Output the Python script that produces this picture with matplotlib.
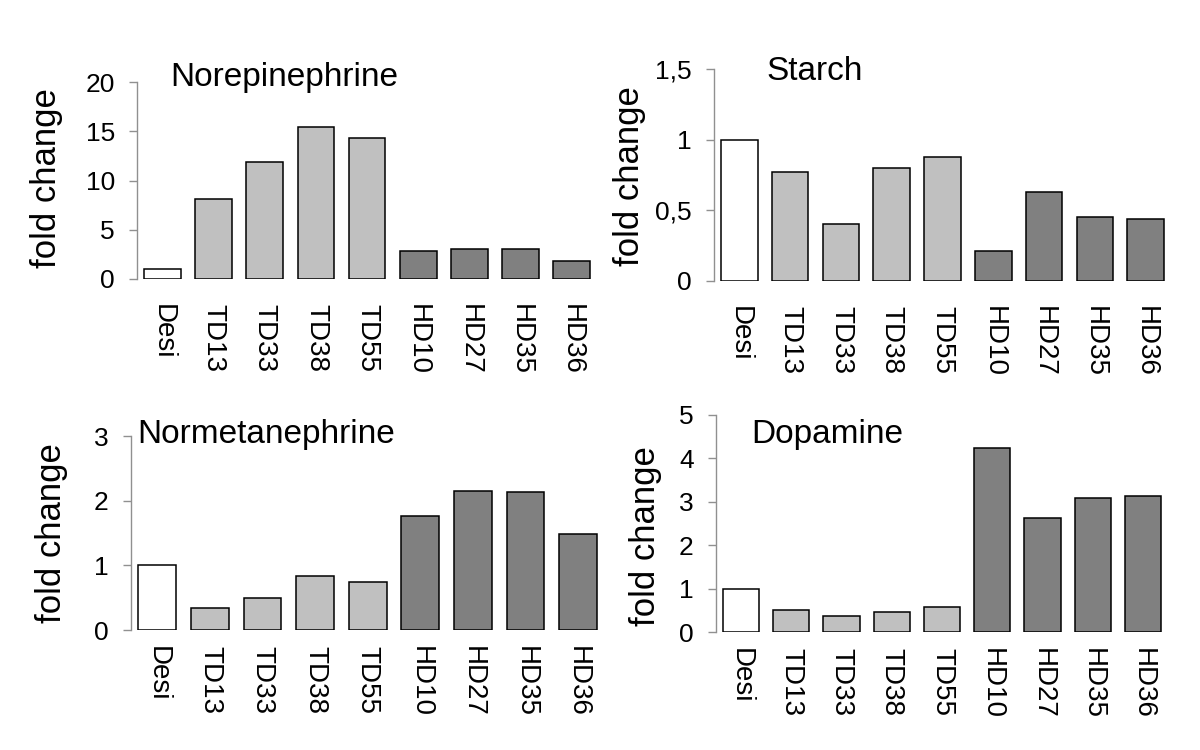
import matplotlib
matplotlib.use("Agg")
import matplotlib.pyplot as plt

plt.rcParams['font.family'] = ['Liberation Sans', 'DejaVu Sans']

# --- данные ---
lines = ['Desi', 'TD13', 'TD33', 'TD38', 'TD55', 'HD10', 'HD27', 'HD35', 'HD36']
groups = ['ctrl', 'TD', 'TD', 'TD', 'TD', 'HD', 'HD', 'HD', 'HD']

norepinephrine = [1.0, 8.15, 11.9, 15.4, 14.3, 2.86, 3.06, 3.06, 1.79]
starch = [1.0, 0.77, 0.405, 0.80, 0.88, 0.215, 0.632, 0.45, 0.44]
normetanephrine = [1.0, 0.34, 0.49, 0.84, 0.74, 1.76, 2.15, 2.13, 1.49]
dopamine = [1.0, 0.50, 0.376, 0.47, 0.57, 4.25, 2.63, 3.09, 3.13]

nor_ticks = [0, 5, 10, 15, 20]
starch_ticks = [0, 0.5, 1, 1.5]
starch_ticklabels = ['0', '0,5', '1', '1,5']
nmn_ticks = [0, 1, 2, 3]
dop_ticks = [0, 1, 2, 3, 4, 5]

colors = {'ctrl': 'white', 'TD': '#c0c0c0', 'HD': '#808080'}

W, H = 1200, 750
fig = plt.figure(figsize=(W / 100, H / 100), dpi=100)


def px_axes(x0, y0, x1, ytop):
    # x0 - ось y, x1 - правый край последнего столбика, y0 - уровень нуля, ytop - верхняя метка
    w = (x1 - x0) * 8.9 / 8.86
    return fig.add_axes([x0 / W, 1 - y0 / H, w / W, (y0 - ytop) / H])


def panel(ax, vals, title, ticks, ticklabels, tx, ty, lx, ly, xpad):
    ax.bar(range(len(lines)), vals, width=0.72, color=[colors[g] for g in groups],
           edgecolor='black', linewidth=1.1, zorder=3)
    ax.set_xlim(-0.5, 8.4)
    ax.set_ylim(0, ticks[-1])
    for s in ['top', 'right', 'bottom']:
        ax.spines[s].set_visible(False)
    ax.spines['left'].set_color('#909090')
    ax.spines['left'].set_linewidth(1.0)
    ax.set_yticks(ticks)
    ax.set_yticklabels(ticklabels)
    ax.tick_params(axis='y', direction='out', length=6, width=1.0, color='#909090',
                   labelsize=19, pad=10)
    ax.set_xticks(range(len(lines)))
    ax.set_xticklabels(lines, rotation=270)
    ax.tick_params(axis='x', length=0, labelsize=20, pad=xpad)
    ax.patch.set_visible(False)
    fig.text(tx / W, 1 - ty / H, title, fontsize=24, ha='left', va='baseline')
    fig.text(lx / W, 1 - ly / H, 'fold change', fontsize=25, rotation=90,
             ha='center', va='center')


ax1 = px_axes(137, 279, 590, 82)
panel(ax1, norepinephrine, 'Norepinephrine', nor_ticks, [str(t) for t in nor_ticks],
      170, 86, 47, 178, 18)

ax2 = px_axes(714, 281, 1164, 69)
panel(ax2, starch, 'Starch', starch_ticks, starch_ticklabels, 766, 80, 629, 176, 18)

ax3 = px_axes(131, 630, 597, 436)
panel(ax3, normetanephrine, 'Normetanephrine', nmn_ticks, [str(t) for t in nmn_ticks],
      137, 443, 52, 533, 11.5)

ax4 = px_axes(716, 632, 1161, 415)
panel(ax4, dopamine, 'Dopamine', dop_ticks, [str(t) for t in dop_ticks],
      751, 443, 645, 536, 11.5)

fig.savefig('out.png', dpi=100)
